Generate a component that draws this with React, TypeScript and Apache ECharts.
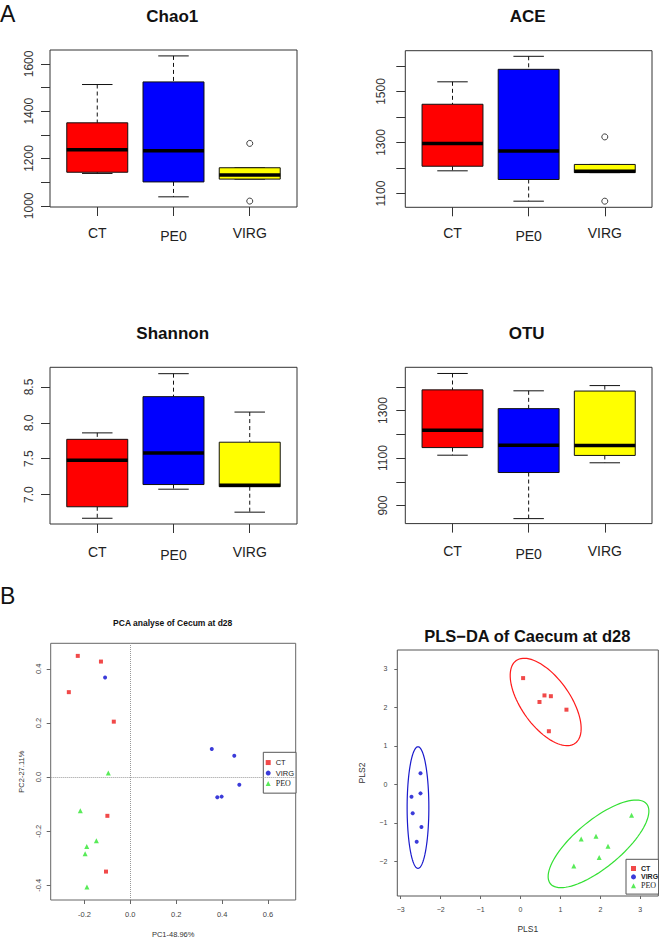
import React, { useEffect, useRef } from 'react';
import * as echarts from 'echarts';

const groups = ['CT', 'PE0', 'VIRG'];
// box stats per group: [lower whisker, Q1, median, Q3, upper whisker]
const chao1Box = [[1137, 1142, 1237, 1351, 1513], [1038, 1101, 1233, 1524, 1634], [1113, 1113, 1130, 1161, 1161]];
const chao1Outliers = [[3, 1264], [3, 1020]];
const aceBox = [[1189, 1207, 1296, 1450, 1538], [1070, 1155, 1267, 1587, 1638], [1182, 1182, 1187, 1214, 1214]];
const aceOutliers = [[3, 1322], [3, 1070]];
const shannonBox = [[6.67, 6.83, 7.48, 7.77, 7.86], [7.075, 7.14, 7.58, 8.365, 8.685], [6.755, 7.11, 7.13, 7.73, 8.15]];
const otuBox = [[1112, 1144, 1217, 1387, 1456], [845, 1039, 1154, 1308, 1383], [1080, 1111, 1153, 1382, 1405]];

const chao1Ticks = [1000, 1100, 1200, 1300, 1400, 1500, 1600];
const chao1Labels = [1000, 1200, 1400, 1600];
const aceTicks = [1100, 1200, 1300, 1400, 1500, 1600];
const aceLabels = [1100, 1300, 1500];
const shannonTicks = [7.0, 7.5, 8.0, 8.5];
const otuTicks = [900, 1000, 1100, 1200, 1300, 1400];
const otuLabels = [900, 1100, 1300];
const groupTicks = [1, 2, 3];

const pcaCT = [[-0.229, 0.448], [-0.128, 0.427], [-0.268, 0.314], [-0.072, 0.205], [-0.1, -0.143], [-0.106, -0.349]];
const pcaVIRG = [[-0.11, 0.368], [0.355, 0.104], [0.453, 0.079], [0.475, -0.028], [0.379, -0.074], [0.398, -0.072]];
const pcaPEO = [[-0.096, 0.015], [-0.218, -0.124], [-0.148, -0.235], [-0.19, -0.256], [-0.197, -0.283], [-0.189, -0.406]];
const pcaXTicks = [-0.2, 0, 0.2, 0.4, 0.6];
const pcaYTicks = [-0.4, -0.2, 0, 0.2, 0.4];

const plsCT = [[0.065, 2.76], [0.6, 2.31], [0.76, 2.29], [0.475, 2.14], [1.15, 1.94], [0.71, 1.38]];
const plsVIRG = [[-2.504, 0.286], [-2.504, -0.234], [-2.73, -0.32], [-2.7, -0.753], [-2.48, -1.11], [-2.6, -1.49]];
const plsPEO = [[2.78, -0.8], [1.52, -1.42], [1.89, -1.35], [2.19, -1.61], [1.97, -1.9], [1.335, -2.12]];
// confidence ellipses: [centerX, centerY, semiAxis1X, semiAxis1Y, semiAxis2X, semiAxis2Y]
const plsEllipses = [
  [0.63, 2.14, 0.737, -1.075, -0.496, -0.366],
  [-2.567, -0.603, 0, 1.58, 0.272, 0],
  [1.953, -1.545, 1.204, 1.037, 0.376, -0.47],
];
const plsXTicks = [-3, -2, -1, 0, 1, 2, 3];
const plsYTicks = [-2, -1, 0, 1, 2, 3];

const boxColors = ['#ff0000', '#0000ff', '#ffff00'];
const ellipseColors = ['#ff1a1a', '#1a1acc', '#33e033'];
const RED = '#ee1c1c';
const BLUE = '#0a0ad0';
const GREEN = '#2ee62e';
const FONT = '"Liberation Sans", Arial, sans-serif';

const boxXAxis = (gi: number, margin: number) => ({
  type: 'value', gridIndex: gi, min: 0.38, max: 3.62,
  splitLine: { show: false }, axisLine: { show: false, onZero: false },
  axisTick: { show: true, length: 9, customValues: groupTicks, lineStyle: { color: '#333', width: 1 } },
  axisLabel: {
    customValues: groupTicks, margin, fontSize: 14, color: '#222', fontFamily: FONT,
    formatter: (v: number) => {
      const g = groups[Math.round(v) - 1];
      return g === 'PE0' ? '{low|' + g + '}' : g;
    },
    rich: { low: { fontSize: 14, color: '#222', fontFamily: FONT, padding: [3, 0, 0, 0] } },
  },
});

const boxYAxis = (gi: number, min: number, max: number, ticks: number[], labels: number[], margin: number, fmt?: (v: number) => string) => ({
  type: 'value', gridIndex: gi, min, max,
  splitLine: { show: false }, axisLine: { show: false, onZero: false },
  axisTick: { show: true, length: 9, customValues: ticks, lineStyle: { color: '#333', width: 1 } },
  axisLabel: { customValues: labels, rotate: 90, margin, fontSize: 12, color: '#333', fontFamily: FONT, formatter: fmt || ((v: number) => String(v)) },
});

const boxSeries = (gi: number, stats: number[][]) => ({
  type: 'custom', xAxisIndex: gi, yAxisIndex: gi, silent: true,
  data: stats.map((s, k) => [k + 1, ...s]),
  encode: { x: 0, y: [1, 2, 3, 4, 5] },
  renderItem: (params: any, api: any) => {
    const x = api.value(0);
    const lo = api.value(1), q1 = api.value(2), med = api.value(3), q3 = api.value(4), hi = api.value(5);
    const px = (dx: number) => api.coord([x + dx, med])[0];
    const py = (v: number) => api.coord([x, v])[1];
    const c = px(0), bl = px(-0.4), br = px(0.4), cl = px(-0.2), cr = px(0.2);
    const yLo = py(lo), yQ1 = py(q1), yMed = py(med), yQ3 = py(q3), yHi = py(hi);
    const dash = { stroke: '#111', lineWidth: 1, lineDash: [4, 3] };
    const solid = { stroke: '#111', lineWidth: 1 };
    return {
      type: 'group',
      children: [
        { type: 'line', shape: { x1: c, y1: yHi, x2: c, y2: yQ3 }, style: dash },
        { type: 'line', shape: { x1: c, y1: yQ1, x2: c, y2: yLo }, style: dash },
        { type: 'line', shape: { x1: cl, y1: yHi, x2: cr, y2: yHi }, style: solid },
        { type: 'line', shape: { x1: cl, y1: yLo, x2: cr, y2: yLo }, style: solid },
        { type: 'rect', shape: { x: bl, y: yQ3, width: br - bl, height: yQ1 - yQ3 }, style: { fill: boxColors[params.dataIndex], stroke: '#111', lineWidth: 1 } },
        { type: 'line', shape: { x1: bl, y1: yMed, x2: br, y2: yMed }, style: { stroke: '#000', lineWidth: 3.5 } },
      ],
    };
  },
});

const outlierSeries = (gi: number, pts: number[][]) => ({
  type: 'scatter', xAxisIndex: gi, yAxisIndex: gi, silent: true, data: pts,
  symbol: 'circle', symbolSize: 6, itemStyle: { color: '#fff', borderColor: '#111', borderWidth: 1 },
});

const smallAxis = (gi: number, min: number, max: number, ticks: number[], o: any) => ({
  type: 'value', gridIndex: gi, min, max,
  splitLine: { show: false }, axisLine: { show: false, onZero: false },
  axisTick: { show: true, length: o.tickLen, customValues: ticks, lineStyle: { color: '#666', width: 1 } },
  axisLabel: { customValues: ticks, fontSize: o.fontSize, color: '#444', fontFamily: FONT, margin: o.margin, rotate: o.rotate || 0, formatter: o.fmt },
  name: o.name, nameLocation: 'middle', nameGap: o.nameGap,
  nameTextStyle: { fontSize: o.nameSize, color: '#333', fontFamily: FONT },
});

const scatter = (gi: number, name: string, data: number[][], symbol: string, size: number, color: string, extra: any = {}) => ({
  type: 'scatter', name, xAxisIndex: gi, yAxisIndex: gi, data, symbol, symbolSize: size,
  itemStyle: { color }, silent: true, ...extra,
});

const titleText = (text: string, x: number, y: number, size: number) => ({
  type: 'text', x, y, silent: true,
  style: { text, fontSize: size, fontWeight: 'bold', fontFamily: FONT, fill: '#111', align: 'center', verticalAlign: 'middle' },
});

export default function App() {
  const ref = useRef<HTMLDivElement>(null);
  useEffect(() => {
    if (!ref.current) return;
    const chart = echarts.init(ref.current, null, { renderer: 'svg' });
    const gridStyle = { show: true, borderColor: '#333', borderWidth: 1, backgroundColor: 'transparent' };
    const option: any = {
      animation: false,
      backgroundColor: '#fff',
      grid: [
        { left: 50, top: 50, width: 247, height: 157, ...gridStyle },
        { left: 405.3, top: 50.7, width: 246.7, height: 156.6, ...gridStyle },
        { left: 50, top: 367.3, width: 247, height: 156.7, ...gridStyle },
        { left: 405.3, top: 367.3, width: 246.7, height: 156.3, ...gridStyle },
        { left: 50.7, top: 643.3, width: 245, height: 257, ...gridStyle, borderColor: '#666' },
        { left: 397.3, top: 650, width: 261, height: 246, ...gridStyle, borderColor: '#555' },
      ],
      xAxis: [
        boxXAxis(0, 19), boxXAxis(1, 19), boxXAxis(2, 20.5), boxXAxis(3, 20.5),
        smallAxis(4, -0.347, 0.7207, pcaXTicks, { tickLen: 4, fontSize: 7.5, margin: 10, fmt: (v: number) => v.toFixed(1), name: 'PC1-48.96%', nameGap: 30, nameSize: 7.5 }),
        smallAxis(5, -3.085, 3.45, plsXTicks, { tickLen: 3, fontSize: 7, margin: 10, fmt: (v: number) => String(v).replace('-', '\u2212'), name: 'PLS1', nameGap: 28, nameSize: 8.5 }),
      ],
      yAxis: [
        boxYAxis(0, 995, 1659, chao1Ticks, chao1Labels, 15),
        boxYAxis(1, 1046, 1660, aceTicks, aceLabels, 18),
        boxYAxis(2, 6.59, 8.774, shannonTicks, shannonTicks, 15.5, (v: number) => v.toFixed(1)),
        boxYAxis(3, 824, 1482, otuTicks, otuLabels, 16),
        smallAxis(4, -0.454, 0.4945, pcaYTicks, { tickLen: 4, fontSize: 7.5, margin: 8, rotate: 90, fmt: (v: number) => v.toFixed(1), name: 'PC2-27.11%', nameGap: 25, nameSize: 7.5 }),
        smallAxis(5, -2.9, 3.49, plsYTicks, { tickLen: 3, fontSize: 7, margin: 10, fmt: (v: number) => String(v).replace('-', '\u2212'), name: 'PLS2', nameGap: 31, nameSize: 8.5 }),
      ],
      legend: [
        {
          orient: 'vertical', left: 263.3, top: 752.3, itemWidth: 5, itemHeight: 5, itemGap: 2.5,
          padding: [6.25, 2, 5.6, 2.4], borderColor: '#555', borderWidth: 1, backgroundColor: '#fff', selectedMode: false,
          textStyle: { fontSize: 7.5, fontFamily: FONT, color: '#222' },
          data: [{ name: 'CT', icon: 'rect' }, { name: 'VIRG', icon: 'circle' }, { name: 'PEO', icon: 'triangle', textStyle: { fontFamily: '"Liberation Serif", serif', fontSize: 8 } }],
        },
        {
          orient: 'vertical', left: 626, top: 859.3, itemWidth: 5, itemHeight: 5, itemGap: 1.4,
          padding: [5.7, 0.5, 4.3, 5], borderColor: '#555', borderWidth: 1, backgroundColor: '#fff', selectedMode: false,
          textStyle: { fontSize: 7, fontWeight: 'bold', fontFamily: FONT, color: '#222' },
          data: [{ name: 'CT', icon: 'rect' }, { name: 'VIRG', icon: 'circle' }, { name: 'PEO', icon: 'triangle', textStyle: { fontFamily: '"Liberation Serif", serif', fontWeight: 'normal', fontSize: 8 } }],
        },
      ],
      graphic: [
        { type: 'text', x: 0, y: 13.5, silent: true, style: { text: 'A', fontSize: 23, fontFamily: FONT, fill: '#111', align: 'left', verticalAlign: 'middle' } },
        { type: 'text', x: 0, y: 596, silent: true, style: { text: 'B', fontSize: 23, fontFamily: FONT, fill: '#111', align: 'left', verticalAlign: 'middle' } },
        titleText('Chao1', 172.3, 16.7, 17),
        titleText('ACE', 527.7, 16.7, 17),
        titleText('Shannon', 172.7, 333.3, 17),
        titleText('OTU', 526.7, 333.3, 17),
        titleText('PCA analyse of Cecum at d28', 172.7, 622.7, 8.5),
        titleText('PLS\u2212DA of Caecum at d28', 527.3, 635.7, 16.5),
      ],
      series: [
        boxSeries(0, chao1Box), outlierSeries(0, chao1Outliers),
        boxSeries(1, aceBox), outlierSeries(1, aceOutliers),
        boxSeries(2, shannonBox),
        boxSeries(3, otuBox),
        scatter(4, 'CT', pcaCT, 'rect', 4, RED, {
          markLine: {
            silent: true, symbol: ['none', 'none'], label: { show: false },
            lineStyle: { type: 'dotted', color: '#999', width: 1 },
            data: [{ xAxis: 0 }, { yAxis: 0 }],
          },
        }),
        scatter(4, 'VIRG', pcaVIRG, 'circle', 4, BLUE),
        scatter(4, 'PEO', pcaPEO, 'triangle', 5, GREEN),
        {
          type: 'custom', xAxisIndex: 5, yAxisIndex: 5, silent: true, data: plsEllipses,
          encode: { x: 0, y: 1 },
          renderItem: (params: any, api: any) => {
            const cx = api.value(0), cy = api.value(1), ux = api.value(2), uy = api.value(3), vx = api.value(4), vy = api.value(5);
            const pts: number[][] = [];
            for (let i = 0; i < 90; i++) {
              const t = (i / 90) * Math.PI * 2;
              pts.push(api.coord([cx + ux * Math.cos(t) + vx * Math.sin(t), cy + uy * Math.cos(t) + vy * Math.sin(t)]));
            }
            return { type: 'polygon', shape: { points: pts }, style: { fill: 'none', stroke: ellipseColors[params.dataIndex], lineWidth: 1.2 } };
          },
        },
        scatter(5, 'CT', plsCT, 'rect', 4, RED),
        scatter(5, 'VIRG', plsVIRG, 'circle', 4, BLUE),
        scatter(5, 'PEO', plsPEO, 'triangle', 5, GREEN),
      ],
    };
    chart.setOption(option);
    return () => chart.dispose();
  }, []);
  return <div ref={ref} style={{ position: 'fixed', left: 0, top: 0, width: 659, height: 939, background: '#fff' }} />;
}
